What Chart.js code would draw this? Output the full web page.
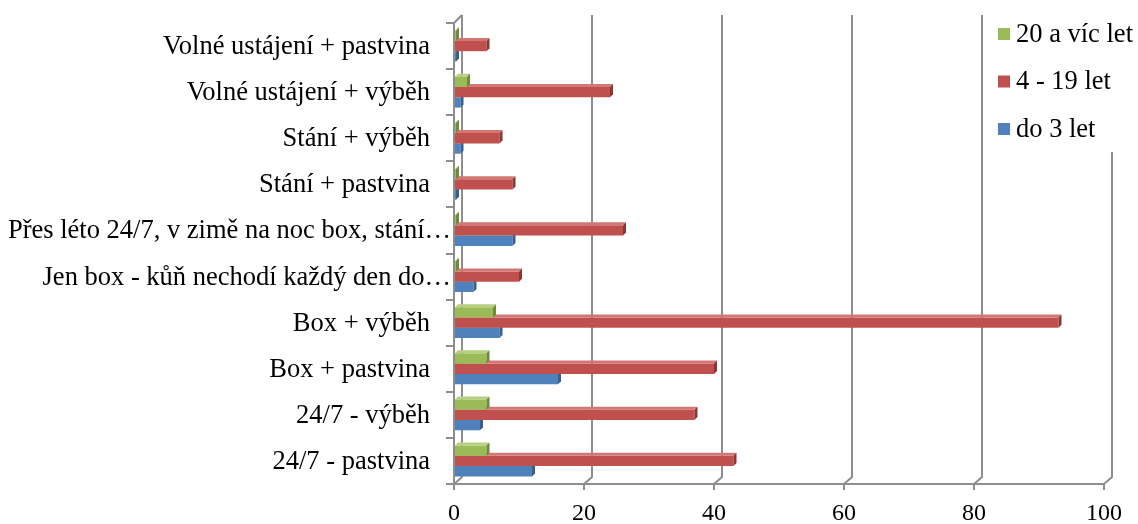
<!DOCTYPE html>
<html>
<head>
<meta charset="utf-8">
<script src="https://cdn.jsdelivr.net/npm/chart.js@4/dist/chart.umd.min.js"></script>
<style>
  html, body { margin: 0; padding: 0; background: #ffffff; }
  #wrap { width: 1138px; height: 524px; }
</style>
</head>
<body>
<div id="wrap"><canvas id="c" width="1138" height="524"></canvas></div>
<script>
const categories = [
  "Volné ustájení + pastvina",
  "Volné ustájení + výběh",
  "Stání + výběh",
  "Stání + pastvina",
  "Přes léto 24/7, v zimě na noc box, stání…",
  "Jen box - kůň nechodí každý den do…",
  "Box + výběh",
  "Box + pastvina",
  "24/7 - výběh",
  "24/7 - pastvina"
];
const seriesNames = ["20 a víc let", "4 - 19 let", "do 3 let"];
const over20 = [0, 2, 0, 0, 0, 0, 6, 5, 5, 5];
const age4to19 = [5, 24, 7, 9, 26, 10, 93, 40, 37, 43];
const upTo3 = [0, 1, 1, 0, 9, 3, 7, 16, 4, 12];
const xTicks = [0, 20, 40, 60, 80, 100];

const colors = ["#9BBB59", "#C0504D", "#4F81BD"];
const sideColors = ["#6E8B3A", "#8C3634", "#35608F"];
const topColors = ["#B7D07F", "#D37775", "#7FA3D2"];
const GRID = "#8e8e8e";
const DEPTH = 3;
const WALL = 8;
const FONT = "'Liberation Serif', 'Times New Roman', serif";

const bar3d = {
  id: 'bar3d',
  afterDatasetDraw(chart, args) {
    const ctx = chart.ctx;
    const i = args.index;
    ctx.save();
    args.meta.data.forEach(el => {
      const { x, y, base, height } = el.getProps(['x', 'y', 'base', 'height'], true);
      const t = y - height / 2, b = y + height / 2;
      ctx.fillStyle = topColors[i];
      ctx.beginPath();
      ctx.moveTo(base, t); ctx.lineTo(base + DEPTH, t - DEPTH);
      ctx.lineTo(x + DEPTH, t - DEPTH); ctx.lineTo(x, t); ctx.closePath(); ctx.fill();
      ctx.fillStyle = sideColors[i];
      ctx.beginPath();
      ctx.moveTo(x, t); ctx.lineTo(x + DEPTH, t - DEPTH);
      ctx.lineTo(x + DEPTH, b - DEPTH); ctx.lineTo(x, b); ctx.closePath(); ctx.fill();
    });
    ctx.restore();
  }
};

const backWall = {
  id: 'backWall',
  beforeDatasetsDraw(chart) {
    const ctx = chart.ctx;
    const xs = chart.scales.x;
    const a = chart.chartArea;
    ctx.save();
    ctx.strokeStyle = GRID;
    ctx.lineWidth = 2;
    xTicks.forEach(v => {
      const px = xs.getPixelForValue(v);
      ctx.beginPath();
      ctx.moveTo(px, a.bottom);
      ctx.lineTo(px + WALL, a.bottom - WALL + 1);
      ctx.lineTo(px + WALL, a.top - WALL);
      ctx.stroke();
    });
    const p0 = xs.getPixelForValue(0);
    ctx.beginPath();
    ctx.moveTo(p0, a.top);
    ctx.lineTo(p0 + WALL, a.top - WALL);
    ctx.stroke();
    ctx.restore();
  }
};

const catLabels = {
  id: 'catLabels',
  afterDraw(chart) {
    const ctx = chart.ctx;
    const ys = chart.scales.y;
    ctx.save();
    ctx.font = "26.5px " + FONT;
    ctx.fillStyle = '#000000';
    ctx.textAlign = 'right';
    ctx.textBaseline = 'middle';
    categories.forEach((c, i) => {
      const py = ys.getPixelForValue(i);
      const right = c.endsWith('…') ? 451 : 430;
      ctx.fillText(c, right, py + 1);
    });
    ctx.restore();
  }
};

const boxLegend = {
  id: 'boxLegend',
  afterDraw(chart) {
    const ctx = chart.ctx;
    ctx.save();
    ctx.fillStyle = '#ffffff';
    ctx.fillRect(992, 8, 146, 144);
    ctx.font = "26.5px " + FONT;
    ctx.textBaseline = 'middle';
    ctx.textAlign = 'left';
    seriesNames.forEach((n, i) => {
      const cy = 34 + i * 47.5;
      ctx.fillStyle = colors[i];
      ctx.fillRect(998, cy - 6, 12, 12);
      ctx.fillStyle = '#000000';
      ctx.fillText(n, 1016, cy + 1);
    });
    ctx.restore();
  }
};

new Chart(document.getElementById('c'), {
  type: 'bar',
  data: {
    labels: categories,
    datasets: [
      { label: seriesNames[0], data: over20, backgroundColor: colors[0] },
      { label: seriesNames[1], data: age4to19, backgroundColor: colors[1] },
      { label: seriesNames[2], data: upTo3, backgroundColor: colors[2] }
    ]
  },
  options: {
    indexAxis: 'y',
    responsive: false,
    animation: false,
    devicePixelRatio: 1,
    layout: { padding: { top: 23, right: 34, left: 0, bottom: 0 } },
    datasets: { bar: { categoryPercentage: 0.67, barPercentage: 1.0, minBarLength: 2, borderWidth: 0 } },
    plugins: {
      legend: { display: false },
      tooltip: { enabled: false }
    },
    scales: {
      x: {
        min: 0, max: 100,
        afterBuildTicks(s) { s.ticks = xTicks.map(v => ({ value: v })); },
        afterFit(s) { s.height = 40; },
        grid: { drawOnChartArea: false, drawTicks: true, tickLength: 6, color: GRID, lineWidth: 2 },
        border: { display: true, color: GRID, width: 2 },
        ticks: { color: '#000', font: { family: FONT, size: 24 }, padding: 9 }
      },
      y: {
        afterFit(s) { s.width = 454; },
        grid: { drawOnChartArea: false, drawTicks: true, tickLength: 8, color: GRID, lineWidth: 2, offset: true },
        border: { display: true, color: GRID, width: 2 },
        ticks: { display: false }
      }
    }
  },
  plugins: [backWall, bar3d, catLabels, boxLegend]
});
</script>
</body>
</html>
